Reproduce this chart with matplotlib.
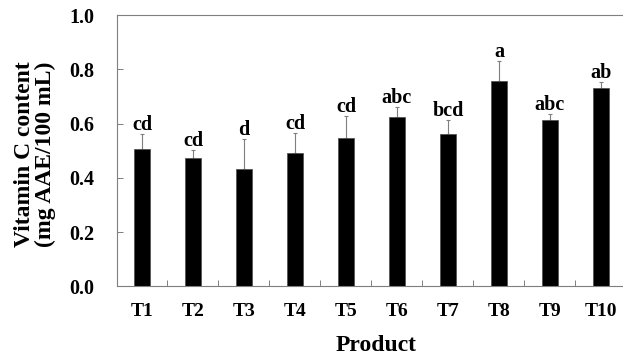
import matplotlib
matplotlib.use("Agg")
import matplotlib.pyplot as plt
import numpy as np

# Vitamin C content per product (mean, upper SD) with Duncan letters
products = ["T1", "T2", "T3", "T4", "T5", "T6", "T7", "T8", "T9", "T10"]
vitamin_c = [0.505, 0.472, 0.432, 0.490, 0.548, 0.624, 0.560, 0.758, 0.612, 0.732]
std_dev = [0.055, 0.029, 0.111, 0.074, 0.078, 0.038, 0.052, 0.071, 0.022, 0.020]
letters = ["cd", "cd", "d", "cd", "cd", "abc", "bcd", "a", "abc", "ab"]

plt.rcParams['font.family'] = ['Liberation Serif', 'DejaVu Serif']
plt.rcParams['font.weight'] = 'bold'

GREY = '#7f7f7f'

fig = plt.figure(figsize=(6.23, 3.59), dpi=100)
ax = fig.add_axes([0.187, 0.2025, 0.8186, 0.7557])

x = np.arange(1, len(products) + 1)
ax.bar(x, vitamin_c, width=0.33, color='black', edgecolor='#555555', linewidth=0.6, zorder=2)
ax.errorbar(x, vitamin_c, yerr=[np.zeros(len(std_dev)), std_dev], fmt='none',
            ecolor=GREY, elinewidth=0.8, capsize=1.6, capthick=0.8, zorder=1)

# significance letters sit just above each error cap
for xi, v, e, lab in zip(x, vitamin_c, std_dev, letters):
    ax.annotate(lab, xy=(xi, v + e), xytext=(0, 3), textcoords='offset points',
                ha='center', va='baseline', fontsize=14.5, fontweight='bold')

ax.set_xlim(0.5, len(products) + 0.5)
ax.set_ylim(0, 1.0)

ax.set_xticks(x)
ax.set_xticklabels(products)
ax.set_xticks(np.arange(1.5, len(products), 1.0), minor=True)
ax.tick_params(axis='x', which='major', length=0, pad=12, labelsize=14)
ax.tick_params(axis='x', which='minor', direction='in', length=4.5, width=0.7, color=GREY)

ax.set_yticks(np.arange(0, 1.01, 0.2))
ax.set_yticklabels([f"{t:.1f}" for t in np.arange(0, 1.01, 0.2)])
ax.tick_params(axis='y', direction='in', length=4.5, width=0.7, color=GREY, pad=16, labelsize=14.5)

for side in ['left', 'bottom', 'top', 'right']:
    ax.spines[side].set_color(GREY)
    ax.spines[side].set_linewidth(0.8)

fig.text(35 / 623, 1 - 154 / 359, "Vitamin C content\n(mg AAE/100 mL)", rotation=90,
         ha='center', va='center', multialignment='center', fontsize=17,
         fontweight='bold', linespacing=1.0)
fig.text(376 / 623, 1 - 351 / 359, "Product", ha='center', va='baseline',
         fontsize=17, fontweight='bold')

fig.savefig("out.png", dpi=100, facecolor='white')
